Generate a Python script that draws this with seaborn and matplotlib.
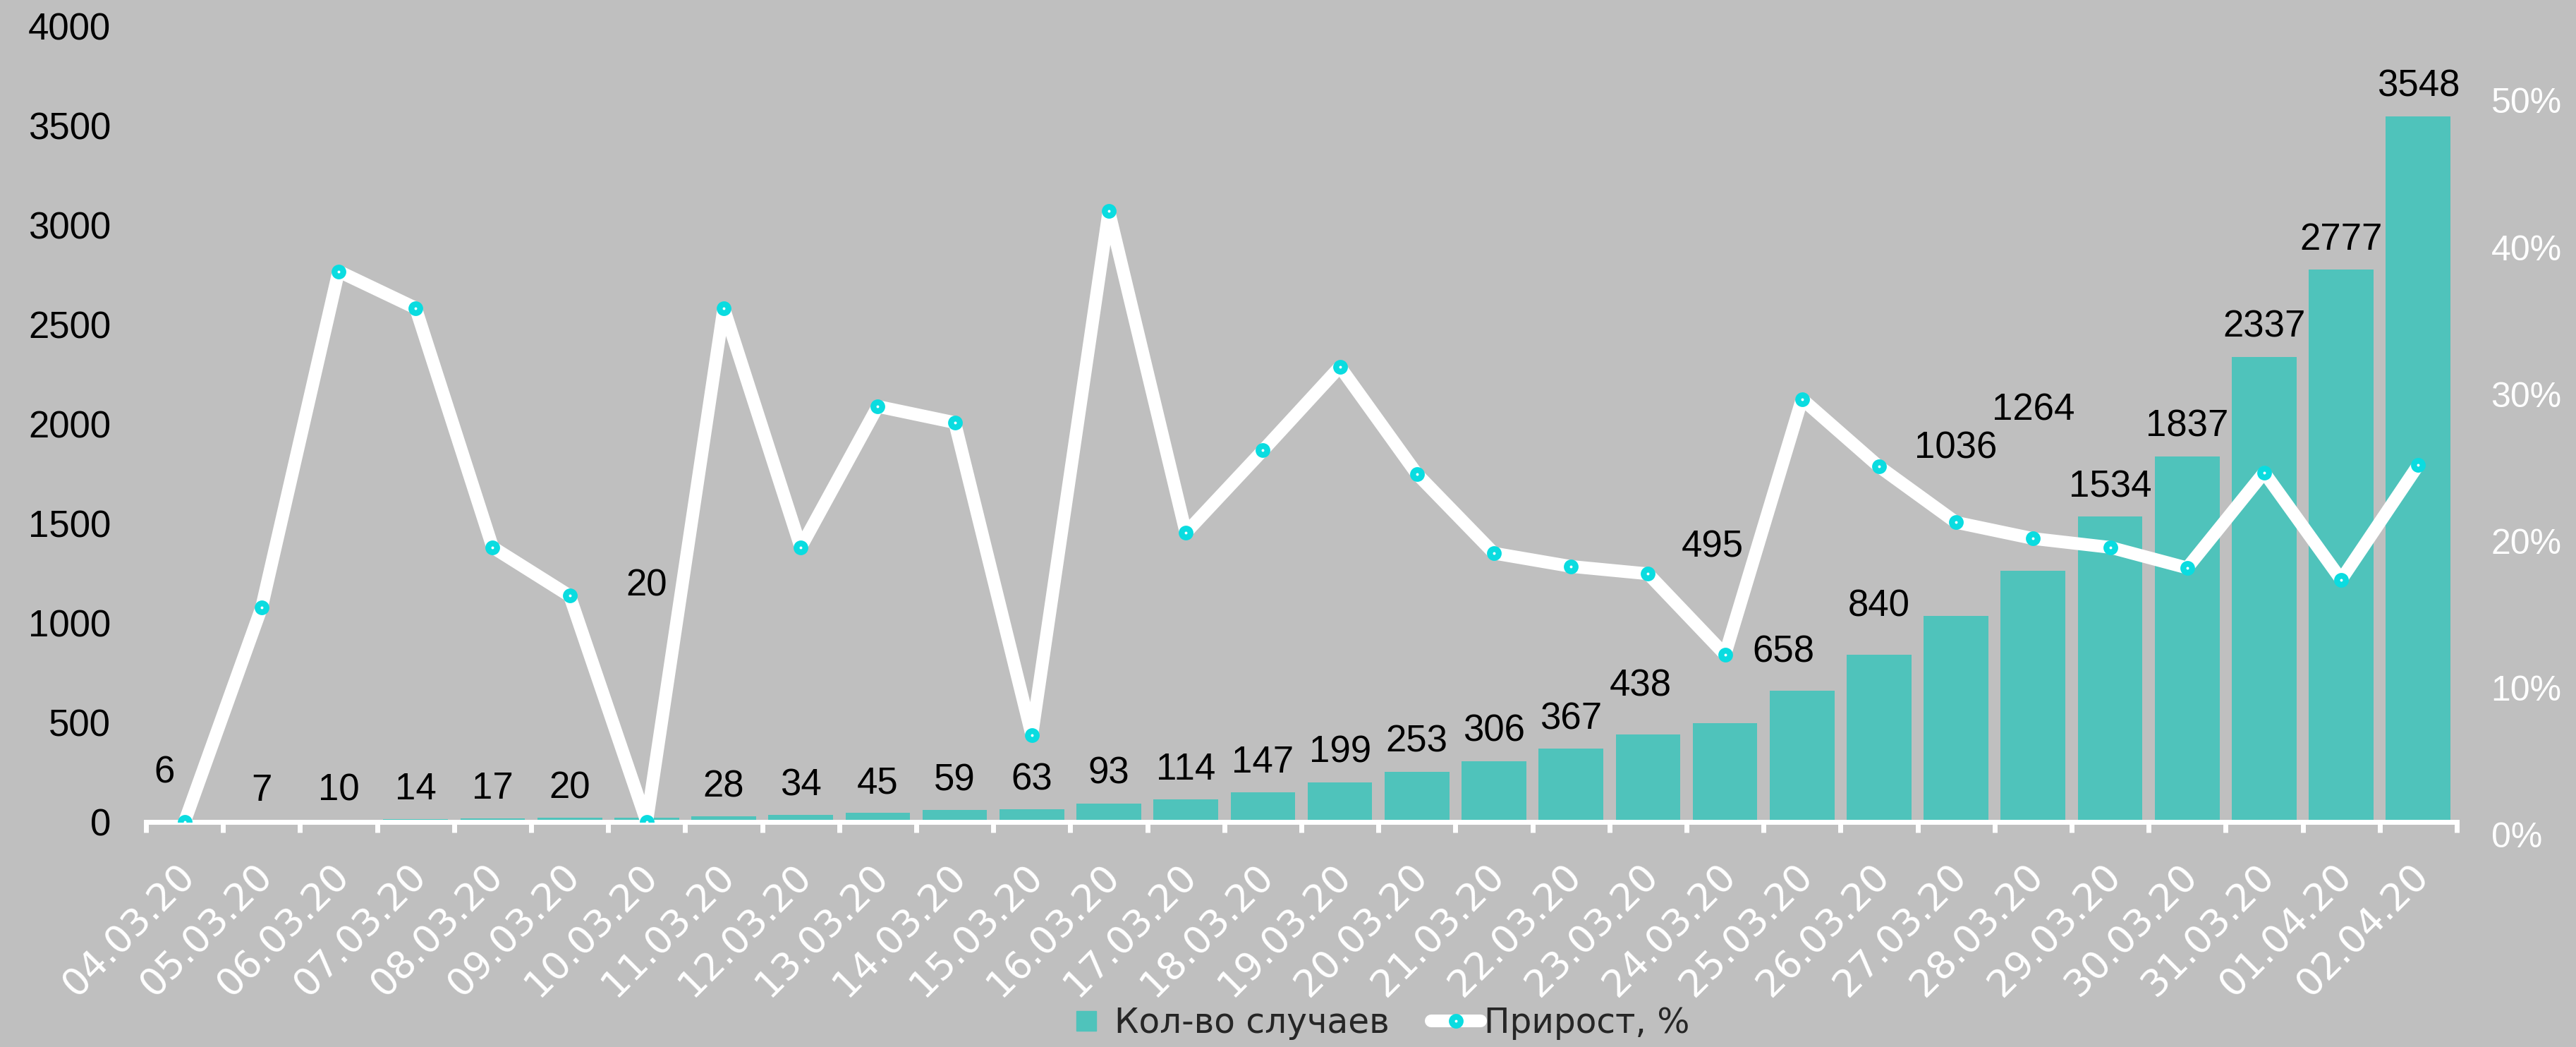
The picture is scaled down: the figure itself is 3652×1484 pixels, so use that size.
import numpy as np
import matplotlib
matplotlib.use('Agg')
import matplotlib.pyplot as plt
import matplotlib.transforms as mtransforms
from matplotlib.lines import Line2D
from matplotlib.ticker import PercentFormatter
import seaborn as sns

# data
dates = ['04.03.20', '05.03.20', '06.03.20', '07.03.20', '08.03.20', '09.03.20',
         '10.03.20', '11.03.20', '12.03.20', '13.03.20', '14.03.20', '15.03.20',
         '16.03.20', '17.03.20', '18.03.20', '19.03.20', '20.03.20', '21.03.20',
         '22.03.20', '23.03.20', '24.03.20', '25.03.20', '26.03.20', '27.03.20',
         '28.03.20', '29.03.20', '30.03.20', '31.03.20', '01.04.20', '02.04.20']
cases = [6, 7, 10, 14, 17, 20, 20, 28, 34, 45, 59, 63, 93, 114, 147, 199, 253,
         306, 367, 438, 495, 658, 840, 1036, 1264, 1534, 1837, 2337, 2777, 3548]
# growth line, in units of the right axis (%)
growth_pct = [0.0, 14.6, 37.5, 35.0, 18.7, 15.4, 0.0, 35.0, 18.7, 28.3, 27.2, 5.9,
              41.6, 19.7, 25.3, 31.0, 23.7, 18.3, 17.4, 16.9, 11.4, 28.8, 24.2,
              20.4, 19.3, 18.7, 17.3, 23.8, 16.5, 24.3]

bg = '#BFBFBF'
bar_color = '#4FC3BB'
dot_color = '#0ADCE0'
dpi = 100
px2pt = 72.0 / dpi

# hand-moved data labels: (dx, dy) in pixels relative to bar top
label_nudge = {0: (-29, 68), 6: (0, 329), 19: (-11, 69), 20: (-18, 250),
               21: (-26, 55), 22: (0, 69), 23: (0, 237), 24: (0, 227)}
default_nudge = (0, 42)

sns.set_style('white')
plt.rcParams['font.family'] = ['Liberation Sans', 'DejaVu Sans']

fig, ax = plt.subplots(figsize=(36.52, 14.84), dpi=dpi)
fig.patch.set_facecolor(bg)
ax.set_facecolor(bg)
fig.subplots_adjust(left=0.0567, right=0.9537, bottom=0.215, top=0.975)

sns.barplot(x=dates, y=cases, color=bar_color, saturation=1, width=0.84, ax=ax,
            zorder=1, linewidth=0, edgecolor='none')

for i, v in enumerate(cases):
    dx, dy = label_nudge.get(i, default_nudge)
    ax.annotate(str(v), (i, v), xytext=(dx * px2pt, dy * px2pt), textcoords='offset points',
                ha='center', va='center', fontsize=38, color='black')

ax2 = ax.twinx()
sns.lineplot(x=np.arange(len(dates)), y=np.array(growth_pct) / 100.0, ax=ax2,
             color='white', lw=13, marker='o', markersize=9, markerfacecolor='white',
             markeredgecolor=dot_color, markeredgewidth=6)

ax.set_xlim(-0.5, len(dates) - 0.5)
ax.set_ylim(0, 4000)
ax.set_yticks(np.arange(0, 4001, 500))
ax2.set_ylim(0, 0.542)
ax2.set_yticks(np.arange(0, 0.51, 0.1))
ax2.yaxis.set_major_formatter(PercentFormatter(1.0, decimals=0))

for s in ['top', 'left', 'right']:
    ax.spines[s].set_visible(False)
ax.spines['bottom'].set_color('white')
ax.spines['bottom'].set_linewidth(5)
for s in ax2.spines.values():
    s.set_visible(False)

ax.set_xticks(range(len(dates)))
ax.set_xticklabels(dates, rotation=45, ha='right', va='top', rotation_mode='anchor',
                   fontsize=39, color='white', family='DejaVu Sans')
ax.set_xticks(np.arange(-0.5, len(dates), 1), minor=True)
ax.tick_params(axis='x', which='major', length=0, pad=36)
ax.tick_params(axis='x', which='minor', bottom=True, length=11, width=5, color='white',
               direction='out')
ax.tick_params(axis='y', length=0, pad=36, labelsize=38, labelcolor='black')
ax2.tick_params(axis='y', length=0, pad=35, labelsize=36, labelcolor='white')
ax.set_xlabel('')
ax.set_ylabel('')
ax2.set_ylabel('')

shift_down = mtransforms.ScaledTranslation(0, -18.0 / dpi, fig.dpi_scale_trans)
for lab in ax2.get_yticklabels():
    lab.set_transform(lab.get_transform() + shift_down)
shift_left = mtransforms.ScaledTranslation(-12.0 / dpi, 0, fig.dpi_scale_trans)
for lab in ax.get_xticklabels():
    lab.set_transform(lab.get_transform() + shift_left)

handles = [Line2D([], [], linestyle='none', marker='s', markersize=20,
                  markerfacecolor=bar_color, markeredgecolor=bar_color, label='Кол-во случаев'),
           Line2D([], [], color='white', lw=13, marker='o', markersize=9,
                  markerfacecolor='white', markeredgecolor=dot_color, markeredgewidth=6,
                  label='Прирост, %')]
fig.legend(handles=handles, loc='center', bbox_to_anchor=(0.534, 0.023), ncol=2,
           frameon=False, prop={'family': 'DejaVu Sans', 'size': 35},
           handlelength=1.45, handletextpad=0.1, columnspacing=1.2)

fig.savefig('out.png', dpi=dpi, facecolor=bg)
